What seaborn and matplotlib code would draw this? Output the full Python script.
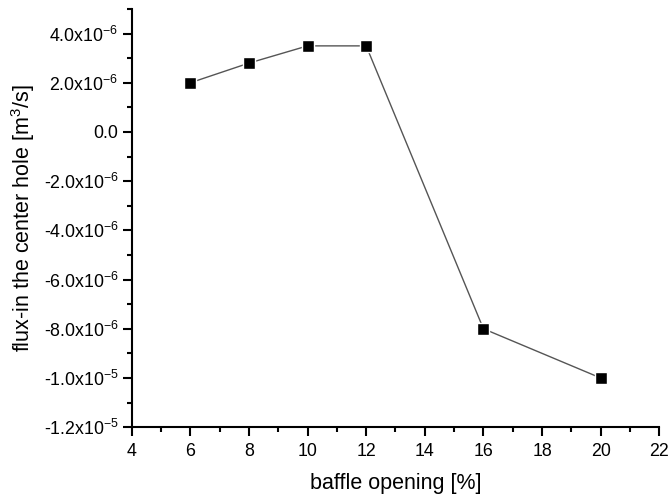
import matplotlib
matplotlib.use("Agg")
import matplotlib.pyplot as plt
import seaborn as sns
import pandas as pd
from matplotlib.ticker import MultipleLocator, FuncFormatter

baffle_opening = [6, 8, 10, 12, 16, 20]
flux_in = [2.0e-6, 2.8e-6, 3.5e-6, 3.5e-6, -8.0e-6, -1.0e-5]

sns.set_theme(style="ticks")
plt.rcParams['font.family'] = ['Liberation Sans', 'DejaVu Sans']
plt.rcParams['mathtext.fontset'] = 'custom'
plt.rcParams['mathtext.rm'] = 'Liberation Sans'
plt.rcParams['mathtext.it'] = 'Liberation Sans'

df = pd.DataFrame({"x": baffle_opening, "y": flux_in})

fig = plt.figure(figsize=(6.72, 4.99), dpi=100)
ax = fig.add_axes([0.196, 0.144, 0.785, 0.838])
sns.lineplot(data=df, x="x", y="y", ax=ax, color="#555555", linewidth=1.0,
             marker="s", markersize=8, markerfacecolor="black",
             markeredgecolor="white", markeredgewidth=1.0)

ax.set_xlim(4, 22)
ax.set_ylim(-1.2e-5, 5.0e-6)
ax.xaxis.set_major_locator(MultipleLocator(2))
ax.xaxis.set_minor_locator(MultipleLocator(1))
ax.yaxis.set_major_locator(MultipleLocator(2e-6))
ax.yaxis.set_minor_locator(MultipleLocator(1e-6))


def yfmt(v, pos):
    if abs(v) < 1e-12:
        return "0.0"
    s = f"{v:.1e}"
    mant, exp = s.split("e")
    return f"{mant}x10$^{{{int(exp)}}}$"


ax.yaxis.set_major_formatter(FuncFormatter(yfmt))
ax.xaxis.set_major_formatter(FuncFormatter(lambda v, p: f"{int(v)}"))

for side in ["top", "right"]:
    ax.spines[side].set_visible(False)
for side in ["left", "bottom"]:
    ax.spines[side].set_linewidth(1.5)
    ax.spines[side].set_color("black")

ax.tick_params(which="major", direction="out", length=6.5, width=1.5,
               labelsize=12.8, color="black", labelcolor="black")
ax.tick_params(axis="x", which="major", pad=5)
ax.tick_params(axis="y", which="major", pad=3)
ax.tick_params(which="minor", direction="out", length=3.5, width=1.5, color="black")

ax.set_xlabel("baffle opening [%]", fontsize=15.5, color="black", labelpad=9)
ax.set_ylabel("flux-in the center hole [m$^{3}$/s]", fontsize=15.5, color="black", labelpad=5)

fig.savefig("out.png", dpi=100)
